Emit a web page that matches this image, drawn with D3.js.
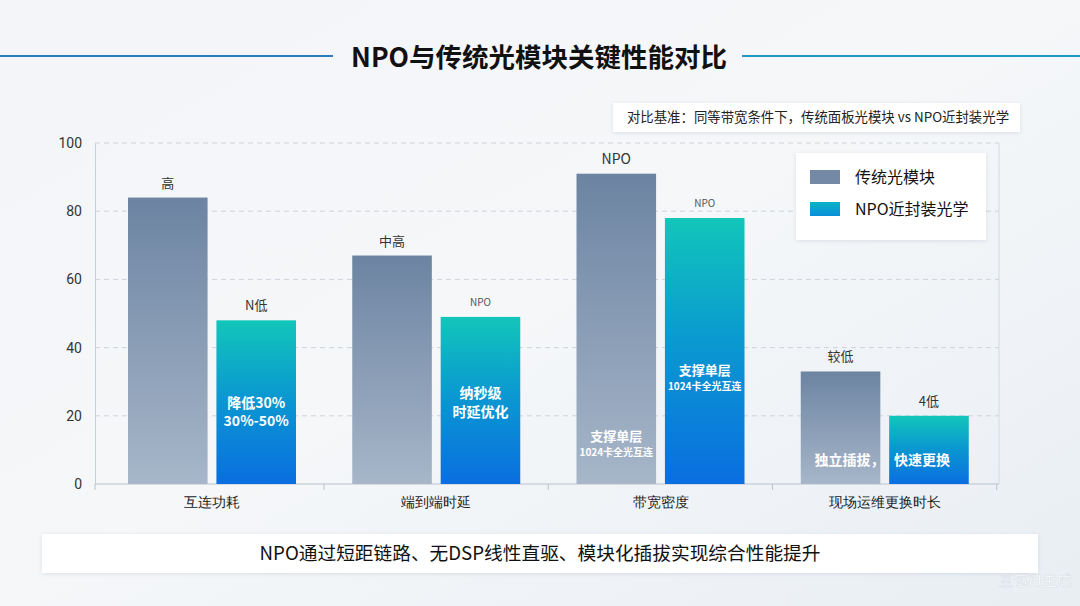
<!DOCTYPE html>
<html>
<head>
<meta charset="utf-8">
<script src="https://cdn.jsdelivr.net/npm/d3@7"></script>
<style>
  html, body { margin: 0; padding: 0; background: #eef2f6; }
  svg { display: block; font-family: "Noto Sans CJK SC", "Noto Sans", sans-serif; }
</style>
</head>
<body>
<svg id="chart" width="1080" height="606"></svg>
<script>
// 数据
const categories = ["互连功耗", "端到端时延", "带宽密度", "现场运维更换时长"];
const seriesNames = ["传统光模块", "NPO近封装光学"];
const traditional = [84, 67, 91, 33];
const npo = [48, 49, 78, 20];
const yTicks = [0, 20, 40, 60, 80, 100];
// 柱顶标签
const topTraditional = ["高", "中高", "NPO", "较低"];
const topNpo = ["N低", "NPO", "NPO", "4低"];
// 柱内标签
const innerTraditional = [[], [], ["支撑单层", "1024卡全光互连"], ["独立插拔，"]];
const innerNpo = [["降低30%", "30%-50%"], ["纳秒级", "时延优化"], ["支撑单层", "1024卡全光互连"], ["快速更换"]];

const W = 1080, H = 606;
const plotL = 95, plotR = 999, plotT = 143, plotB = 484;

const svg = d3.select("#chart");
const defs = svg.append("defs");

// 背景
const bg = defs.append("linearGradient").attr("id", "bg").attr("x1", 0).attr("y1", 0).attr("x2", 1).attr("y2", 1);
bg.append("stop").attr("offset", "0%").attr("stop-color", "#f3f5f8");
bg.append("stop").attr("offset", "50%").attr("stop-color", "#f5f7f9");
bg.append("stop").attr("offset", "100%").attr("stop-color", "#e9eef3");
svg.append("rect").attr("width", W).attr("height", H).attr("fill", "url(#bg)");

// 柱子渐变
const gGray = defs.append("linearGradient").attr("id", "gGray").attr("x1", 0).attr("y1", 0).attr("x2", 0).attr("y2", 1);
gGray.append("stop").attr("offset", "0%").attr("stop-color", "#6c84a2");
gGray.append("stop").attr("offset", "100%").attr("stop-color", "#a7b6c9");
const gTeal = defs.append("linearGradient").attr("id", "gTeal").attr("x1", 0).attr("y1", 0).attr("x2", 0).attr("y2", 1);
gTeal.append("stop").attr("offset", "0%").attr("stop-color", "#12c6ba");
gTeal.append("stop").attr("offset", "45%").attr("stop-color", "#0a9ad0");
gTeal.append("stop").attr("offset", "100%").attr("stop-color", "#0a6ee0");
const gLegTeal = defs.append("linearGradient").attr("id", "gLegTeal").attr("x1", 0).attr("y1", 0).attr("x2", 0).attr("y2", 1);
gLegTeal.append("stop").attr("offset", "0%").attr("stop-color", "#0bb3c8");
gLegTeal.append("stop").attr("offset", "100%").attr("stop-color", "#0a8ed8");

const shadow = defs.append("filter").attr("id", "shadow").attr("x", "-10%").attr("y", "-30%").attr("width", "120%").attr("height", "160%");
shadow.append("feDropShadow").attr("dx", 0).attr("dy", 1).attr("stdDeviation", 2).attr("flood-color", "#8a9bb0").attr("flood-opacity", 0.25);

// 标题
svg.append("line").attr("x1", 0).attr("x2", 333).attr("y1", 56).attr("y2", 56)
    .attr("stroke", "#2b7bb8").attr("stroke-width", 2);
svg.append("line").attr("x1", 742).attr("x2", W).attr("y1", 56).attr("y2", 56)
    .attr("stroke", "#1e9ac6").attr("stroke-width", 2);
svg.append("text").attr("x", 539).attr("y", 67).attr("text-anchor", "middle")
    .attr("font-size", 26.5).attr("font-weight", "bold").attr("fill", "#111")
    .text("NPO与传统光模块关键性能对比");

// 对比基准说明
svg.append("rect").attr("x", 613).attr("y", 103).attr("width", 407).attr("height", 29)
    .attr("fill", "#fff").attr("filter", "url(#shadow)");
svg.append("text").attr("x", 818).attr("y", 122).attr("text-anchor", "middle")
    .attr("font-size", 13.4).attr("fill", "#222")
    .text("对比基准：同等带宽条件下，传统面板光模块 vs NPO近封装光学");

// 比例尺
const x0 = d3.scaleBand().domain(categories).range([plotL, 992]).padding(0);
const x1 = d3.scaleBand().domain(seriesNames).range([33, 201]).paddingInner(0.1).paddingOuter(0);
const y = d3.scaleLinear().domain([0, 100]).range([plotB, plotT]);

// 网格
svg.append("g").selectAll("line").data(yTicks.filter(d => d > 0)).join("line")
    .attr("x1", plotL).attr("x2", plotR)
    .attr("y1", d => y(d)).attr("y2", d => y(d))
    .attr("stroke", "#cdd4dc").attr("stroke-dasharray", "5,4").attr("stroke-width", 1);

// 坐标轴
const yAxis = svg.append("g").attr("transform", `translate(${plotL},0)`)
    .call(d3.axisLeft(y).tickValues(yTicks).tickSize(0).tickPadding(13));
yAxis.select(".domain").attr("stroke", "#c9d0d8");
yAxis.selectAll("text").attr("font-size", 14).attr("fill", "#333").attr("font-family", "Roboto, 'Noto Sans', sans-serif");

svg.append("line").attr("x1", plotR).attr("x2", plotR).attr("y1", plotT).attr("y2", plotB)
    .attr("stroke", "#d4dae1");

const xAxis = svg.append("g").attr("transform", `translate(0,${plotB})`)
    .call(d3.axisBottom(x0).tickSize(0).tickPadding(13));
xAxis.select(".domain").remove();
xAxis.selectAll(".tick").attr("transform", d => `translate(${x0(d) + (x1.range()[0] + x1.range()[1]) / 2},0)`);
xAxis.selectAll("text").attr("font-size", 14).attr("fill", "#222");
svg.append("line").attr("x1", plotL).attr("x2", plotR).attr("y1", plotB).attr("y2", plotB)
    .attr("stroke", "#b9c2cc");
// 分隔刻度：组与组之间
const sepX = [plotL].concat(categories.map(c => x0(c) + x1.range()[1] + 28));
svg.append("g").selectAll("line").data(sepX).join("line")
    .attr("x1", d => d).attr("x2", d => d)
    .attr("y1", plotB).attr("y2", plotB + 6)
    .attr("stroke", "#b9c2cc");

// 柱子
const rows = categories.map((c, i) => ({
    cat: c,
    bars: [
        { s: seriesNames[0], v: traditional[i], top: topTraditional[i], inner: innerTraditional[i], fill: "url(#gGray)", topSize: i === 2 ? 14 : 13 },
        { s: seriesNames[1], v: npo[i], top: topNpo[i], inner: innerNpo[i], fill: "url(#gTeal)", topSize: topNpo[i] === "NPO" ? 10 : 13 }
    ]
}));

const groups = svg.append("g").selectAll("g").data(rows).join("g")
    .attr("transform", d => `translate(${x0(d.cat)},0)`);

groups.selectAll("rect").data(d => d.bars).join("rect")
    .attr("x", d => x1(d.s)).attr("width", x1.bandwidth())
    .attr("y", d => y(d.v)).attr("height", d => y(0) - y(d.v))
    .attr("fill", d => d.fill);

groups.selectAll("text.top").data(d => d.bars).join("text")
    .attr("class", "top")
    .attr("x", d => x1(d.s) + x1.bandwidth() / 2)
    .attr("y", d => y(d.v) - (d.topSize === 10 ? 11 : 10))
    .attr("text-anchor", "middle")
    .attr("font-size", d => d.topSize)
    .attr("fill", d => d.topSize === 10 ? "#555" : "#333")
    .text(d => d.top);

// 柱内文字
const innerLayout = [
    [null, { y: [403, 421], sizes: [14, 14] }],
    [null, { y: [393, 412], sizes: [14, 14] }],
    [{ y: [436, 452], sizes: [13, 10] }, { y: [370, 386], sizes: [13, 10] }],
    [{ y: [460], sizes: [14], dx: 9 }, { y: [460], sizes: [14], dx: -7 }]
];
rows.forEach((r, i) => {
    r.bars.forEach((b, j) => {
        const lay = innerLayout[i][j];
        if (!lay) return;
        b.inner.forEach((t, k) => {
            groups.filter(d => d.cat === r.cat).append("text")
                .attr("x", x1(b.s) + x1.bandwidth() / 2 + (lay.dx || 0))
                .attr("y", lay.y[k] + lay.sizes[k] * 0.35)
                .attr("text-anchor", "middle")
                .attr("font-size", lay.sizes[k])
                .attr("font-weight", "bold")
                .attr("fill", "#fff")
                .text(t);
        });
    });
});

// 图例
const legend = svg.append("g").attr("transform", "translate(796,153)");
legend.append("rect").attr("width", 190).attr("height", 87).attr("fill", "#fff").attr("filter", "url(#shadow)");
const legItems = legend.selectAll("g").data(seriesNames).join("g")
    .attr("transform", (d, i) => `translate(14,${17 + i * 32})`);
legItems.append("rect").attr("width", 30).attr("height", 14)
    .attr("fill", (d, i) => i === 0 ? "#7389a6" : "url(#gLegTeal)");
legItems.append("text").attr("x", 45).attr("y", 13).attr("font-size", 16).attr("fill", "#111")
    .text(d => d);

// 底部结论
svg.append("rect").attr("x", 42).attr("y", 534).attr("width", 996).attr("height", 39)
    .attr("fill", "#fff").attr("filter", "url(#shadow)");
svg.append("text").attr("x", 540).attr("y", 560).attr("text-anchor", "middle")
    .attr("font-size", 18.7).attr("fill", "#111")
    .text("NPO通过短距链路、无DSP线性直驱、模块化插拔实现综合性能提升");

// 水印
svg.append("text").attr("x", 1072).attr("y", 586).attr("text-anchor", "end")
    .attr("font-size", 15).attr("fill", "#fff").attr("opacity", 0.9)
    .attr("stroke", "#d0d7de").attr("stroke-width", 0.4)
    .text("豆包AI生成");
</script>
</body>
</html>
